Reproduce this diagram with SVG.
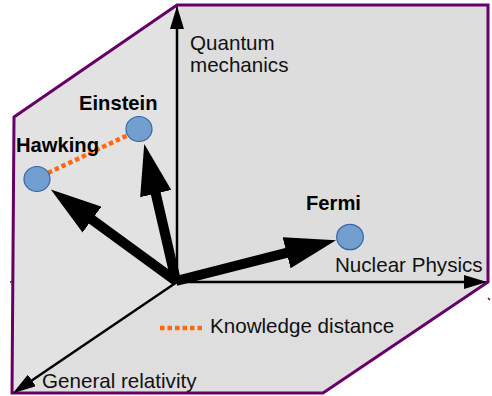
<svg xmlns="http://www.w3.org/2000/svg" width="492" height="396" viewBox="0 0 492 396">
<defs>
<style>
.lbl{font-family:"Liberation Sans",Arial,sans-serif;font-size:20.6px;fill:#111}
.name{font-family:"Liberation Sans",Arial,sans-serif;font-size:20.2px;font-weight:bold;fill:#000}
.node{fill:#729fcf;stroke:#3465a4;stroke-width:1.2}
.axis{stroke:#000;stroke-width:2.5;fill:none}
.thick{stroke:#000;stroke-width:10;fill:none}
.dist{stroke:#ff6a10;stroke-width:4.5;stroke-dasharray:4.5 3;fill:none}
.edge{stroke:#660066;fill:none}
</style>
<marker id="ah" markerUnits="userSpaceOnUse" markerWidth="24" markerHeight="14" refX="1" refY="7" orient="auto">
<path d="M0,0 L23,7 L0,14 Z" fill="#000"/>
</marker>
<marker id="big" markerUnits="userSpaceOnUse" markerWidth="52" markerHeight="32" refX="2" refY="16" orient="auto">
<path d="M0,0 L51,16 L0,32 Z" fill="#000"/>
</marker>
</defs>
<g id="cube">
<polygon points="14,117 177,5 488,5 488,282 323,393 12,393" fill="#e2e2e2"/>
<polygon points="177,5 488,5 488,282 177,282" fill="#dddddd"/>
<polygon points="177,282 488,282 323,393 12,393" fill="#dedede"/>
<polyline class="edge" stroke-width="1.5" points="177,5 177,282 488,282"/>
<polygon class="edge" stroke-width="3" points="14,117 177,5 488,5 488,282 323,393 12,393"/>
<line class="edge" stroke-width="1.5" x1="10" y1="282" x2="14" y2="282"/>
<line class="edge" stroke-width="1.5" x1="488" y1="298" x2="490" y2="300"/>
</g>
<g id="connectors">
<line class="axis" x1="177" y1="282" x2="177" y2="28" marker-end="url(#ah)"/>
<line class="axis" x1="177" y1="282" x2="465" y2="282" marker-end="url(#ah)"/>
<line class="axis" x1="177" y1="282" x2="31" y2="381" marker-end="url(#ah)"/>
<line class="thick" x1="176" y1="281" x2="90.4" y2="218.5" marker-end="url(#big)"/>
<line class="thick" x1="176" y1="281" x2="155.3" y2="191.7" marker-end="url(#big)"/>
<line class="thick" x1="176" y1="281" x2="288.5" y2="252.3" marker-end="url(#big)"/>
<line class="dist" x1="48" y1="173" x2="128" y2="135"/>
</g>
<g id="axis-labels">
<text class="lbl" x="190" y="50">Quantum</text>
<text class="lbl" x="190" y="72">mechanics</text>
<text class="lbl" x="335" y="272">Nuclear Physics</text>
<text class="lbl" x="42" y="388">General relativity</text>
</g>
<g id="hawking">
<ellipse class="node" cx="37" cy="179" rx="13" ry="12.5"/>
<text class="name" x="16" y="152">Hawking</text>
</g>
<g id="einstein">
<ellipse class="node" cx="139" cy="129" rx="13" ry="12.5"/>
<text class="name" x="79" y="110">Einstein</text>
</g>
<g id="fermi">
<ellipse class="node" cx="350" cy="237" rx="13.3" ry="12.7"/>
<text class="name" x="306" y="210">Fermi</text>
</g>
<g id="legend">
<line class="dist" x1="160" y1="328" x2="202" y2="328"/>
<text class="lbl" x="210" y="333">Knowledge distance</text>
</g>
</svg>
